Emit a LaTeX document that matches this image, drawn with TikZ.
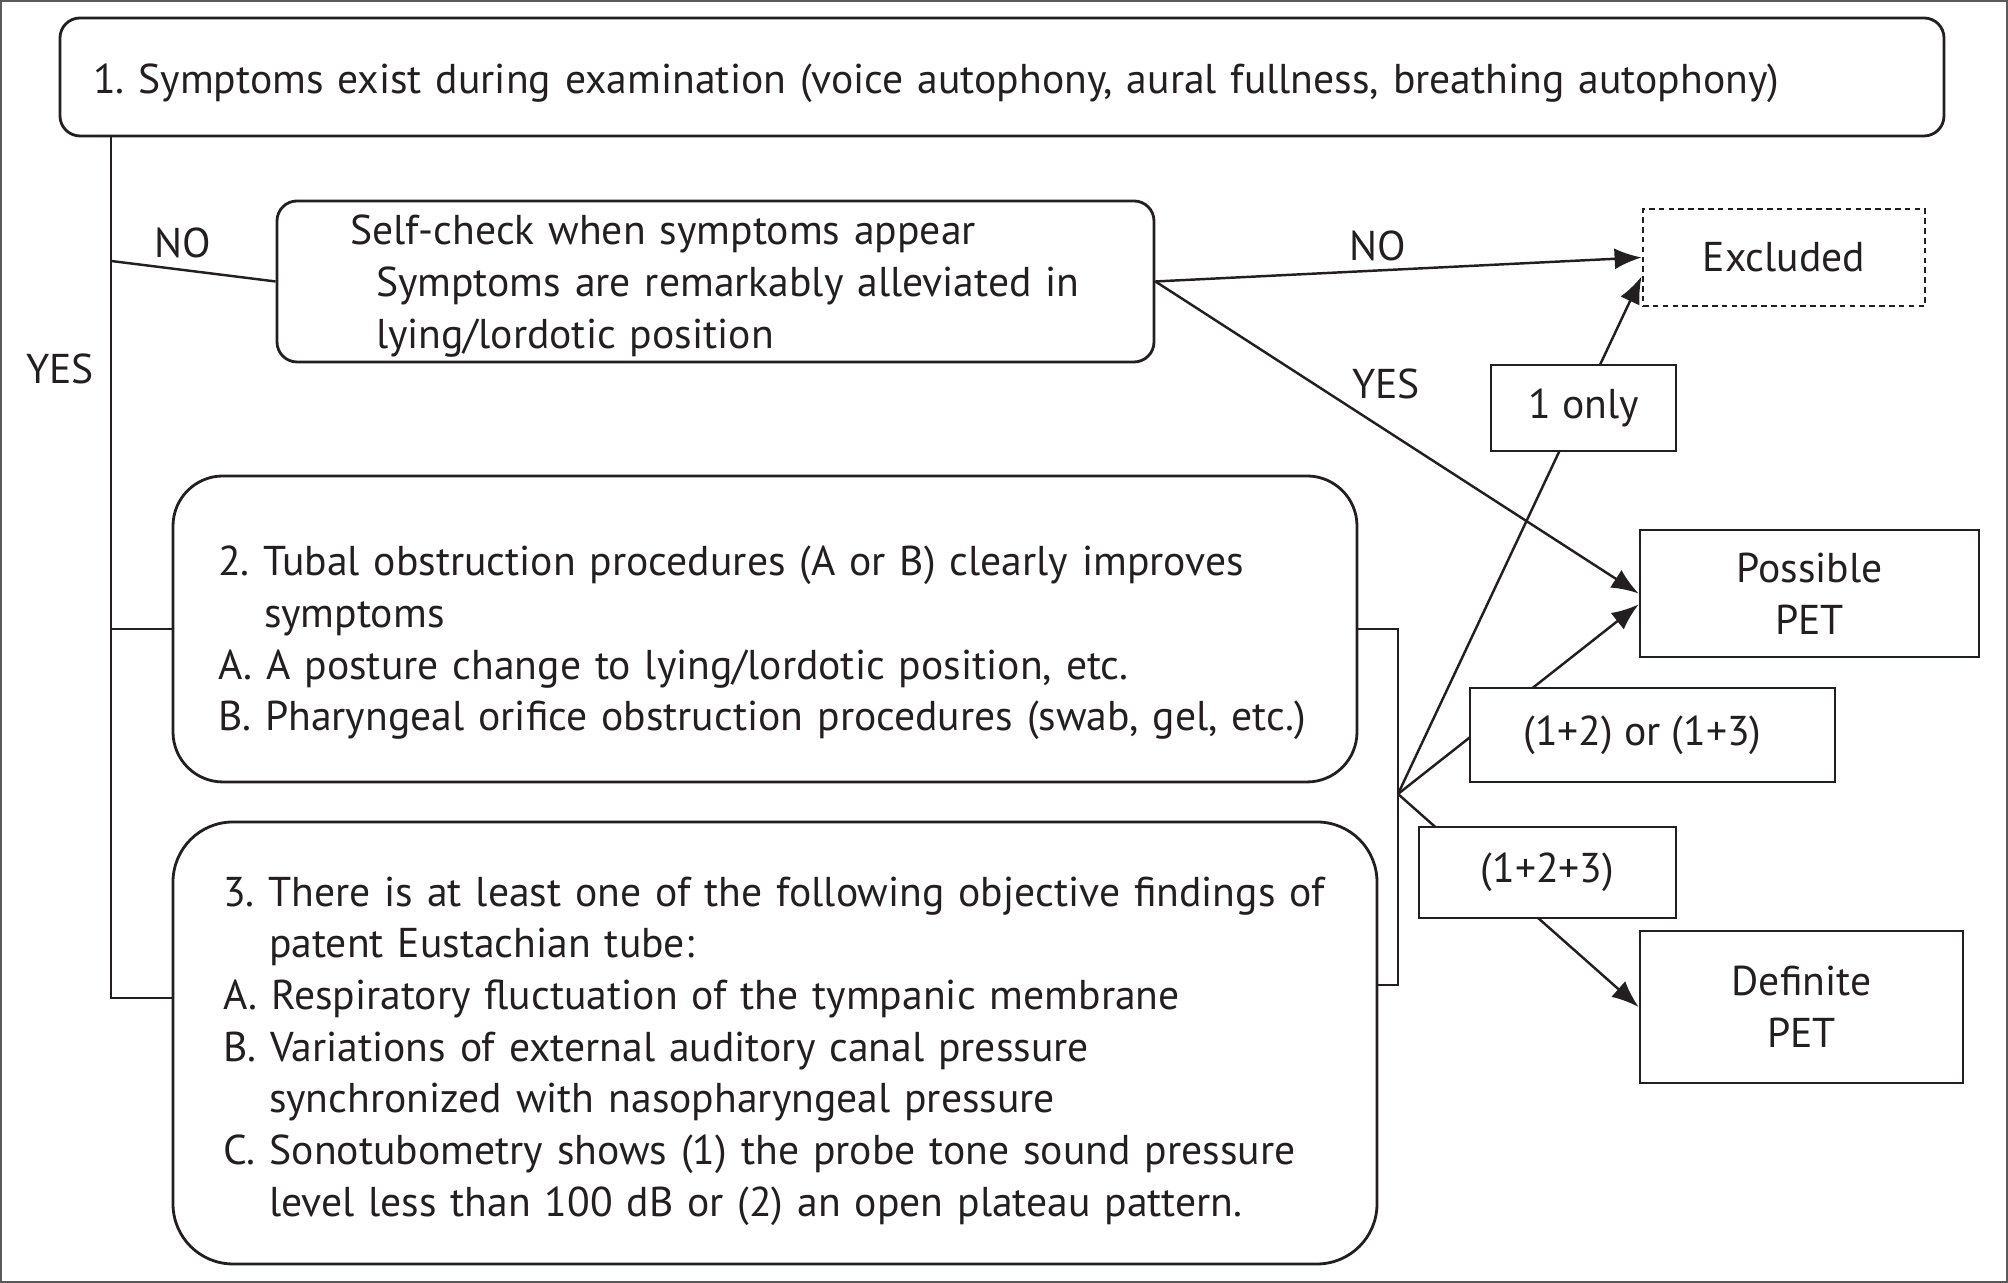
\documentclass[tikz,border=0pt]{standalone}
\usepackage{fontspec}
\setmainfont{PT Sans}
\usepackage{xcolor}
\usepackage{tikz}
\usetikzlibrary{calc, arrows.meta, backgrounds}
\definecolor{petInk}{RGB}{35, 31, 32}
\definecolor{petFrame}{RGB}{90, 90, 90}
\newcommand{\topgap}[1]{\rule{0pt}{#1}}
\tikzset{
    base/.style={
        font=\fontsize{11.85}{14.7}\selectfont\frenchspacing,
        text=petInk
    },
    panel/.style={
        base,
        rectangle,
        rounded corners=2mm,
        draw=petInk,
        line width=0.8pt,
        align=left,
        inner ysep=0pt
    },
    result/.style={
        base,
        rectangle,
        draw=petInk,
        line width=0.8pt,
        fill=white,
        align=center,
        inner sep=0pt
    },
    tag/.style={
        result
    },
    flow/.style={
        -{Latex[length=2.7mm, width=2.1mm]},
        line width=0.7pt,
        color=petInk
    },
    link/.style={
        line width=0.7pt,
        color=petInk
    },
    label/.style={
        base,
        inner sep=0pt
    }
}

\begin{document}
\begin{tikzpicture}
  \useasboundingbox (0,0) rectangle (20.08,12.83);
  \draw[line width=0.6pt, petFrame] (0.01,0.01) rectangle (20.07,12.82);

  % 1: symptoms during examination
  \node[panel, minimum height=1.18cm, text width=18.18cm, inner xsep=0.33cm] (b1) at (10.02,12.06)
    {\topgap{12pt}1. Symptoms exist during examination (voice autophony, aural fullness, breathing autophony)};

  % self-check
  \node[panel, minimum height=1.61cm, text width=7.31cm, inner xsep=0.73cm] (chk) at (7.155,10.015)
    {\topgap{11pt}Self-check when symptoms appear\\
     \hspace*{0.26cm}Symptoms are remarkably alleviated in\\
     \hspace*{0.26cm}lying/lordotic position};

  % 2: tubal obstruction
  \node[panel, rounded corners=5mm, minimum height=3.06cm, text width=10.94cm, inner xsep=0.45cm] (b2) at (7.65,6.54)
    {\topgap{16.4pt}2. Tubal obstruction procedures (A or B) clearly improves\\
     \hspace*{0.46cm}symptoms\\
     A. A posture change to lying/lordotic position, etc.\\
     B. Pharyngeal orifice obstruction procedures (swab, gel, etc.)};

  % 3: objective findings
  \node[panel, rounded corners=6mm, minimum height=4.42cm, text width=11.04cm, inner xsep=0.5cm] (b3) at (7.75,2.40)
    {\topgap{13pt}3. There is at least one of the following objective findings of\\
     \hspace*{0.46cm}patent Eustachian tube:\\
     A. Respiratory fluctuation of the tympanic membrane\\
     B. Variations of external auditory canal pressure\\
     \hspace*{0.46cm}synchronized with nasopharyngeal pressure\\
     C. Sonotubometry shows (1) the probe tone sound pressure\\
     \hspace*{0.46cm}level less than 100 dB or (2) an open plateau pattern.};

  % outcomes
  \node[result, minimum width=2.82cm, minimum height=0.97cm, dash pattern=on 1.6pt off 1.2pt] (excl) at (17.84,10.255) {Excluded};
  \node[result, minimum width=3.39cm, minimum height=1.27cm] (poss) at (18.095,6.895) {Possible\\PET};
  \node[result, minimum width=3.23cm, minimum height=1.52cm] (defi) at (18.015,2.76) {Definite\\PET};

  % combination tags
  \node[tag, minimum width=1.85cm, minimum height=0.86cm] (t1) at (15.835,8.75) {1 only};
  \node[tag, minimum width=3.65cm, minimum height=0.94cm] (t2) at (16.525,5.48) {(1+2) or (1+3)\hspace*{0.2cm}};
  \node[tag, minimum width=2.57cm, minimum height=0.91cm] (t3) at (15.475,4.105) {(1+2+3)};

  % spine on the left
  \coordinate (sTop) at (1.11,11.47);
  \coordinate (sNo) at (1.11,10.22);
  \coordinate (sB2) at (1.11,6.54);
  \coordinate (sB3) at (1.11,2.85);
  \draw[link] (sTop) -- (sB3) -- (sB3 -| b3.west);
  \draw[link] (sB2) -- (b2.west);
  \draw[link] (sNo) -- (chk.west);
  \node[label] (lNo) at (1.83,10.40) {NO};
  \node[label] (lYes) at (0.60,9.14) {YES};

  % self-check answers
  \draw[flow] (chk.east) -- (excl.west);
  \draw[flow] (chk.east) -- (poss.west);
  \node[label] (rNo) at (13.78,10.37) {NO};
  \node[label] (rYes) at (13.86,8.99) {YES};

  % bracket joining 2 and 3
  \coordinate (jn) at (13.98,4.89);
  \coordinate (bBot) at (13.98,2.98);
  \draw[link] (b2.east) -- (b2.east -| jn) -- (bBot) -- (bBot -| b3.east);

  % combinations to outcomes
  \coordinate (exIn) at ($(excl.west)+(0,-0.19)$);
  \coordinate (posIn) at ($(poss.west)+(0,-0.11)$);
  \begin{scope}[on background layer]
    \draw[flow] (jn) -- (exIn);
    \draw[flow] (jn) -- (posIn);
    \draw[flow] (jn) -- (defi.west);
  \end{scope}

\end{tikzpicture}
\end{document}
